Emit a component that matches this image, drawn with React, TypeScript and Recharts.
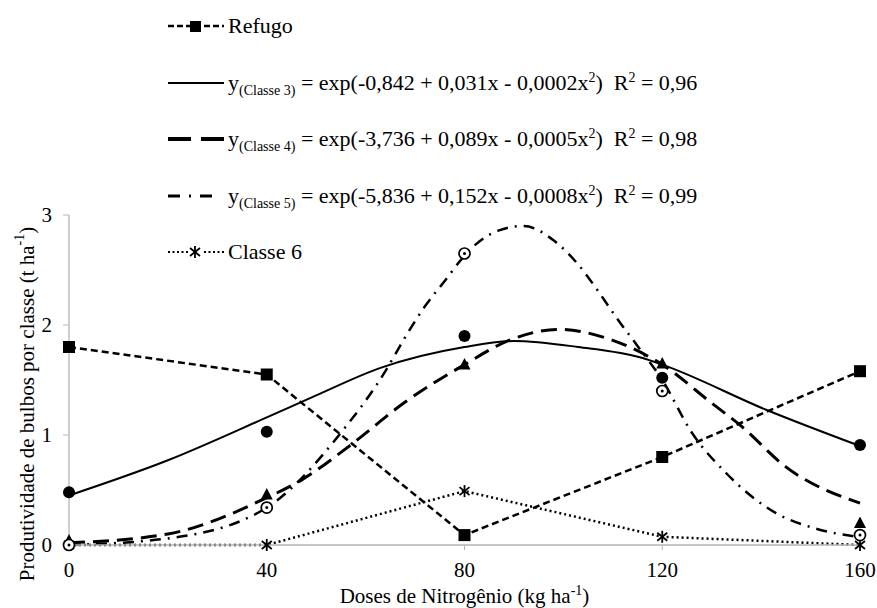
import { ComposedChart, Line, XAxis, YAxis, Legend, Label } from "recharts"

const FONT = "Liberation Serif"

const doses = [0, 40, 80, 120, 160]
const refugo = [1.8, 1.55, 0.09, 0.8, 1.58]
const classe3 = [0.48, 1.03, 1.9, 1.52, 0.91]
const classe4 = [0.04, 0.46, 1.64, 1.65, 0.2]
const classe5 = [0.0, 0.34, 2.65, 1.4, 0.09]
const classe6 = [0.0, 0.0, 0.49, 0.075, 0.0]

// curvas ajustadas
const ajuste3X = [0, 20, 40, 50, 63, 80, 90, 103, 116, 120, 141, 160]
const ajuste3Y = [0.45, 0.77, 1.16, 1.36, 1.61, 1.8, 1.855, 1.8, 1.7, 1.64, 1.23, 0.9]
const ajuste4X = [0, 20, 40, 47, 57, 68, 80, 89, 99, 110, 120, 130, 136, 145, 160]
const ajuste4Y = [0.02, 0.1, 0.43, 0.59, 0.91, 1.3, 1.64, 1.86, 1.96, 1.86, 1.64, 1.29, 1.08, 0.71, 0.38]
const ajuste5X = [0, 20, 40, 55, 64, 68, 72, 76, 80, 83, 87, 92, 98, 103, 107, 111, 115, 120, 126, 133, 143, 151, 160]
const ajuste5Y = [0, 0.06, 0.34, 1.02, 1.58, 1.89, 2.17, 2.4, 2.63, 2.76, 2.86, 2.9, 2.77, 2.55, 2.31, 2.05, 1.81, 1.5, 1.02, 0.65, 0.29, 0.15, 0.07]

const xTicks = [0, 40, 80, 120, 160]
const yTicks = [0, 1, 2, 3]

const observados = doses.map((x, i) => ({
  x,
  refugo: refugo[i],
  c3: classe3[i],
  c4: classe4[i],
  c5: classe5[i],
  c6: classe6[i],
}))
const ajuste3 = ajuste3X.map((x, i) => ({ x, y: ajuste3Y[i] }))
const ajuste4 = ajuste4X.map((x, i) => ({ x, y: ajuste4Y[i] }))
const ajuste5 = ajuste5X.map((x, i) => ({ x, y: ajuste5Y[i] }))

const Square = ({ cx, cy }: any) => <rect x={cx - 6} y={cy - 6} width={12} height={12} fill="#000" />
const Circle = ({ cx, cy }: any) => <circle cx={cx} cy={cy} r={6} fill="#000" />
const Triangle = ({ cx, cy }: any) => (
  <path d={`M${cx},${cy - 6.5} L${cx + 6},${cy + 5} L${cx - 6},${cy + 5} Z`} fill="#000" />
)
const RingDot = ({ cx, cy }: any) => (
  <g>
    <circle cx={cx} cy={cy} r={5.5} fill="#fff" stroke="#000" strokeWidth={1.7} />
    <circle cx={cx} cy={cy} r={1.5} fill="#000" />
  </g>
)
const Star = ({ cx, cy }: any) => (
  <g stroke="#000" strokeWidth={1.8}>
    <line x1={cx} y1={cy - 6} x2={cx} y2={cy + 6} />
    <line x1={cx - 5} y1={cy - 4} x2={cx + 5} y2={cy + 4} />
    <line x1={cx - 5} y1={cy + 4} x2={cx + 5} y2={cy - 4} />
  </g>
)

const sub = { fontSize: 14, position: "relative" as const, top: 5 }
const sup = { fontSize: 14, position: "relative" as const, top: -8 }

function Amostra({ tipo }: { tipo: string }) {
  return (
    <svg width={60} height={20} style={{ display: "block", flex: "none" }}>
      {tipo === "refugo" && (
        <>
          <line x1={0} x2={56} y1={10} y2={10} stroke="#000" strokeWidth={2.5} strokeDasharray="6 3" />
          <rect x={22} y={5} width={11} height={11} fill="#000" />
        </>
      )}
      {tipo === "c3" && <line x1={0} x2={56} y1={10} y2={10} stroke="#000" strokeWidth={2} />}
      {tipo === "c4" && (
        <line x1={0} x2={56} y1={10} y2={10} stroke="#000" strokeWidth={4} strokeDasharray="23 10" />
      )}
      {tipo === "c5" && (
        <line x1={0} x2={45} y1={10} y2={10} stroke="#000" strokeWidth={3} strokeDasharray="12 9 2 9 12" />
      )}
      {tipo === "c6" && (
        <>
          <line x1={0} x2={56} y1={10} y2={10} stroke="#000" strokeWidth={2} strokeDasharray="2 2.5" />
          <rect x={21} y={3} width={14} height={14} fill="#fff" />
          <Star cx={27} cy={10} />
        </>
      )}
    </svg>
  )
}

function Legenda() {
  const linhas = [
    { tipo: "refugo", texto: <span>Refugo</span> },
    {
      tipo: "c3",
      texto: (
        <span>
          y<span style={sub}>(Classe 3)</span> = exp(-0,842 + 0,031x - 0,0002x<span style={sup}>2</span>)&nbsp;&nbsp;R
          <span style={sup}>2</span> = 0,96
        </span>
      ),
    },
    {
      tipo: "c4",
      texto: (
        <span>
          y<span style={sub}>(Classe 4)</span> = exp(-3,736 + 0,089x - 0,0005x<span style={sup}>2</span>)&nbsp;&nbsp;R
          <span style={sup}>2</span> = 0,98
        </span>
      ),
    },
    {
      tipo: "c5",
      texto: (
        <span>
          y<span style={sub}>(Classe 5)</span> = exp(-5,836 + 0,152x - 0,0008x<span style={sup}>2</span>)&nbsp;&nbsp;R
          <span style={sup}>2</span> = 0,99
        </span>
      ),
    },
    { tipo: "c6", texto: <span>Classe 6</span> },
  ]
  return (
    <div style={{ fontFamily: FONT, fontSize: 22, color: "#000" }}>
      {linhas.map((l) => (
        <div key={l.tipo} style={{ height: 56.5, display: "flex", alignItems: "center", whiteSpace: "nowrap" }}>
          <Amostra tipo={l.tipo} />
          <div>{l.texto}</div>
        </div>
      ))}
    </div>
  )
}

const TituloY = ({ viewBox }: any) => {
  const cx = viewBox.x + 18
  const cy = viewBox.y + viewBox.height / 2 + 24
  return (
    <text
      x={cx}
      y={cy}
      transform={`rotate(-90 ${cx} ${cy})`}
      textAnchor="middle"
      dominantBaseline="central"
      style={{ fontFamily: FONT, fontSize: 21 }}
      fill="#000"
    >
      Produtividade de bulbos por classe (t ha
      <tspan dy={-8} fontSize={14}>-1</tspan>
      <tspan dy={8}>)</tspan>
    </text>
  )
}

const TituloX = ({ viewBox }: any) => {
  const cx = viewBox.x + viewBox.width / 2
  const cy = viewBox.y + 58
  return (
    <text x={cx} y={cy} textAnchor="middle" style={{ fontFamily: FONT, fontSize: 21 }} fill="#000">
      Doses de Nitrogênio (kg ha
      <tspan dy={-8} fontSize={14}>-1</tspan>
      <tspan dy={8}>)</tspan>
    </text>
  )
}

export default function App() {
  return (
    <div style={{ position: "absolute", left: 0, top: 0, background: "#fff", fontFamily: FONT }}>
      <ComposedChart
        width={877}
        height={608}
        margin={{ top: 215, right: 17, bottom: 23, left: 9 }}
        style={{ fontFamily: FONT }}
      >
        <XAxis
          type="number"
          dataKey="x"
          domain={[0, 160]}
          ticks={xTicks}
          height={40}
          axisLine={{ stroke: "#b5b5b5", strokeWidth: 1.3 }}
          tickLine={{ stroke: "#b5b5b5" }}
          tickSize={5}
          tickMargin={12}
          tick={{ fill: "#000", fontSize: 21, fontFamily: FONT }}
        >
          <Label content={<TituloX />} />
        </XAxis>
        <YAxis
          type="number"
          domain={[0, 3]}
          ticks={yTicks}
          width={60}
          axisLine={{ stroke: "#b5b5b5", strokeWidth: 1.3 }}
          tickLine={{ stroke: "#b5b5b5" }}
          tickSize={6}
          tickMargin={11}
          tick={{ fill: "#000", fontSize: 21, fontFamily: FONT }}
        >
          <Label content={<TituloY />} />
        </YAxis>
        <Legend
          layout="vertical"
          align="center"
          verticalAlign="middle"
          content={<Legenda />}
          wrapperStyle={{ left: 168, top: -2, width: 620, height: 285 }}
        />

        <Line data={ajuste3} dataKey="y" type="monotone" stroke="#000" strokeWidth={2} dot={false} isAnimationActive={false} />
        <Line data={ajuste4} dataKey="y" type="monotone" stroke="#000" strokeWidth={3} strokeDasharray="16 8" dot={false} isAnimationActive={false} />
        <Line data={ajuste5} dataKey="y" type="monotone" stroke="#000" strokeWidth={2.5} strokeDasharray="11 7 2 7" dot={false} isAnimationActive={false} />
        <Line data={observados} dataKey="c6" type="linear" stroke="#000" strokeWidth={2.5} strokeDasharray="2 3" dot={<Star />} isAnimationActive={false} />
        <Line data={observados} dataKey="refugo" type="linear" stroke="#000" strokeWidth={2.5} strokeDasharray="7 4" dot={<Square />} isAnimationActive={false} />
        <Line data={observados} dataKey="c3" stroke="none" dot={<Circle />} isAnimationActive={false} />
        <Line data={observados} dataKey="c4" stroke="none" dot={<Triangle />} isAnimationActive={false} />
        <Line data={observados} dataKey="c5" stroke="none" dot={<RingDot />} isAnimationActive={false} />
      </ComposedChart>
    </div>
  )
}
